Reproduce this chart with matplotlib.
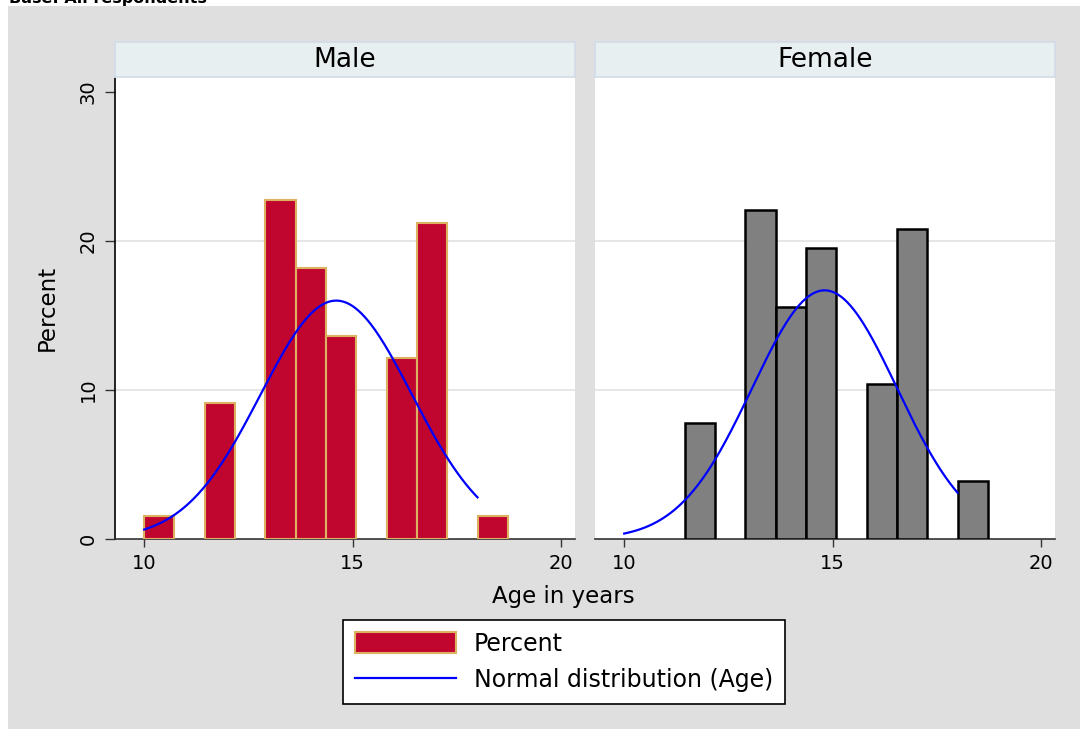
import numpy as np
import matplotlib
matplotlib.use("Agg")
import matplotlib.pyplot as plt
from matplotlib.patches import Rectangle
from matplotlib.lines import Line2D

plt.rcParams['font.family'] = ['DejaVu Sans']

# ---- data ----
male_ages = [10, 12, 13, 14, 15, 16, 17, 18]
male_pct = [1.52, 9.09, 22.73, 18.18, 13.64, 12.12, 21.21, 1.52]
female_ages = [12, 13, 14, 15, 16, 17, 18]
female_pct = [7.79, 22.08, 15.58, 19.48, 10.39, 20.78, 3.90]
male_mean, male_sd = 14.61, 1.815
female_mean, female_sd = 14.81, 1.74
age_min, age_max, n_bins = 10, 18, 11
panel_titles = ["Male", "Female"]

W, H = 1080, 729
fig = plt.figure(figsize=(W / 100, H / 100), dpi=100)
fig.patch.set_facecolor('white')

# stata grey background
fig.patches.append(Rectangle((8 / W, 0), 1, (H - 6) / H, transform=fig.transFigure,
                             facecolor='#dfdfdf', edgecolor='none', zorder=-10))

fig.text(9 / W, 1 - 2.5 / H, "Base: All respondents", fontsize=11.5, fontweight='bold',
         ha='left', va='baseline')

bw = (age_max - age_min) / n_bins


def px(x0, y0, x1, y1):
    return [x0 / W, 1 - y1 / H, (x1 - x0) / W, (y1 - y0) / H]


def draw_panel(rect, strip, title, ages, pct, mu, sd, fc, ec, lw, show_y):
    ax = fig.add_axes(rect)
    lefts = [age_min + np.floor((a - age_min) / bw + 1e-9) * bw for a in ages]
    ax.bar(lefts, pct, width=bw, align='edge', color=fc, edgecolor=ec, linewidth=lw, zorder=3)
    xs = np.linspace(age_min, age_max, 300)
    ys = 100 * bw * np.exp(-0.5 * ((xs - mu) / sd) ** 2) / (sd * np.sqrt(2 * np.pi))
    ax.plot(xs, ys, color='#0000ff', lw=1.6, zorder=4)
    ax.set_xlim(9.30, 20.34)
    ax.set_ylim(0, 30.98)
    ax.set_xticks([10, 15, 20])
    ax.set_yticks([0, 10, 20, 30])
    for g in [10, 20]:
        ax.axhline(g, color='#e6e6e6', lw=1.4, zorder=1)
    for s in ['top', 'right']:
        ax.spines[s].set_visible(False)
    ax.spines['bottom'].set_color('#333333')
    ax.spines['bottom'].set_linewidth(1.2)
    ax.tick_params(axis='x', length=6, width=1, color='#333333', labelsize=14, pad=5)
    if show_y:
        ax.spines['left'].set_color('black')
        ax.spines['left'].set_linewidth(1.2)
        ax.tick_params(axis='y', length=7.5, width=1, color='#333333', labelsize=14, pad=5)
        for lab in ax.get_yticklabels():
            lab.set_rotation(90)
            lab.set_va('center')
    else:
        ax.spines['left'].set_visible(False)
        ax.tick_params(axis='y', left=False, labelleft=False)
    sax = fig.add_axes(strip)
    sax.set_facecolor('#e8eff1')
    sax.set_xticks([])
    sax.set_yticks([])
    for s in sax.spines.values():
        s.set_color('#d2dbe8')
        s.set_linewidth(1.2)
    sax.text(0.5, 0.29, title, ha='center', va='baseline', fontsize=19, transform=sax.transAxes)
    return ax


draw_panel(px(115, 77, 575, 539), px(115, 42, 575, 77), panel_titles[0], male_ages, male_pct,
           male_mean, male_sd, '#c0062f', '#dcb260', 1.5, True)
draw_panel(px(595, 77, 1055, 539), px(595, 42, 1055, 77), panel_titles[1], female_ages, female_pct,
           female_mean, female_sd, '#808080', 'black', 1.8, False)

fig.text(563 / W, 1 - 597 / H, "Age in years", fontsize=16.5, ha='center', va='center')
fig.text(47 / W, 1 - 308 / H, "Percent", fontsize=16.5, ha='center', va='center', rotation=90)

handles = [Rectangle((0, 0), 1, 1, facecolor='#c0062f', edgecolor='#dcb260', linewidth=1.5),
           Line2D([0], [0], color='#0000ff', lw=1.6)]
leg = fig.legend(handles, ["Percent", "Normal distribution (Age)"], loc='center',
                 bbox_to_anchor=(564 / W, 1 - 662 / H), fontsize=17, frameon=True,
                 fancybox=False, edgecolor='black', handlelength=4.3, handleheight=1.05,
                 handletextpad=0.75, labelspacing=0.55, borderpad=0.5, borderaxespad=0)
leg.get_frame().set_linewidth(1.2)
leg.get_frame().set_facecolor('white')
leg.get_frame().set_alpha(1)

fig.savefig("out.png", dpi=100)
